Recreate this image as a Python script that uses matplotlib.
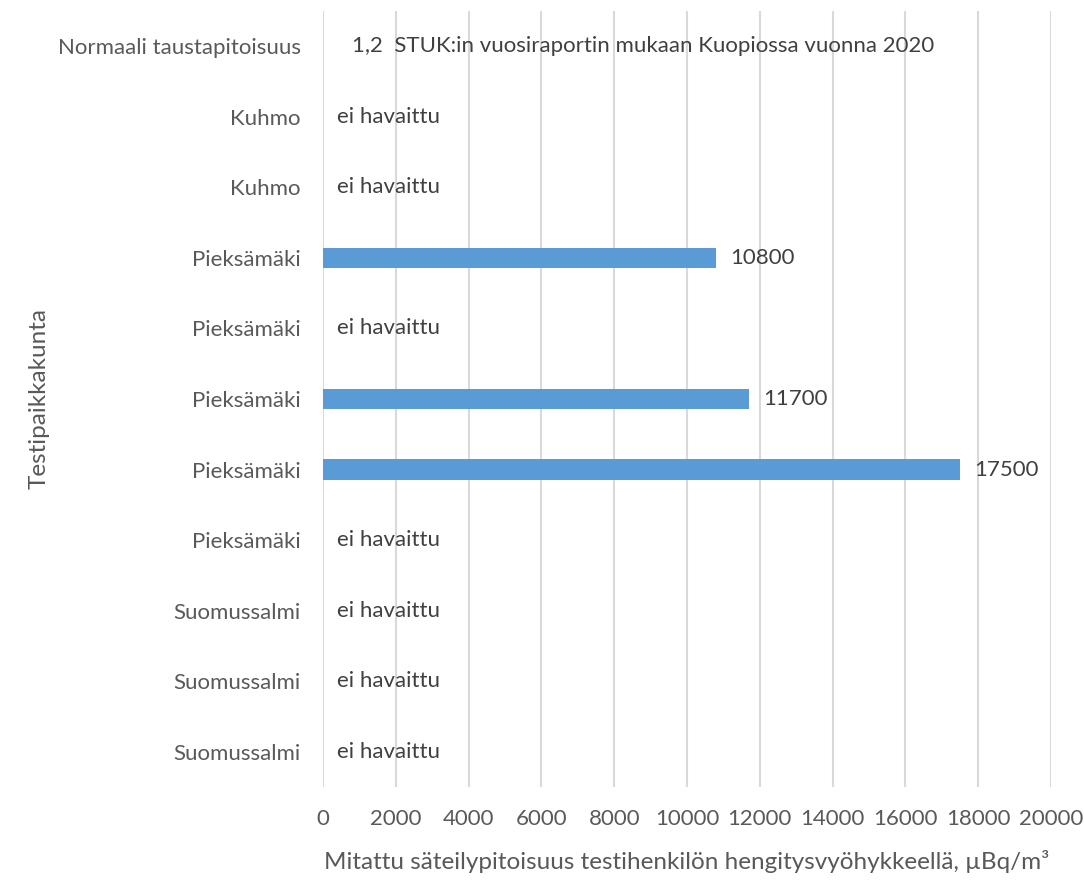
import matplotlib.pyplot as plt
import numpy as np

# Testipaikat ylhäältä alas
paikat = ["Normaali taustapitoisuus", "Kuhmo", "Kuhmo", "Pieksämäki",
          "Pieksämäki", "Pieksämäki", "Pieksämäki", "Pieksämäki",
          "Suomussalmi", "Suomussalmi", "Suomussalmi"]
# Mitatut pitoisuudet (µBq/m3), 0 = ei havaittu
arvot = [1.2, 0, 0, 10800, 0, 11700, 17500, 0, 0, 0, 0]
# Arvojen tekstit palkkien perässä
tekstit = ["1,2  STUK:in vuosiraportin mukaan Kuopiossa vuonna 2020",
           "ei havaittu", "ei havaittu", "10800", "ei havaittu", "11700",
           "17500", "ei havaittu", "ei havaittu", "ei havaittu", "ei havaittu"]
x_tikit = list(range(0, 20001, 2000))

plt.rcParams["font.family"] = ["Lato", "DejaVu Sans"]

fig = plt.figure(figsize=(10.84, 8.8), dpi=100)
ax = fig.add_axes([0.298, 0.1057, 0.6716, 0.8818])

y = np.arange(len(paikat))
ax.barh(y, arvot, height=0.29, color="#5B9BD5", zorder=3)

for i, (arvo, teksti) in enumerate(zip(arvot, tekstit)):
    siirto = 29 if i == 0 else 14
    ax.annotate(teksti, (arvo, y[i]), xytext=(siirto, 0),
                textcoords="offset pixels", va="center", ha="left",
                fontsize=16, color="#404040", zorder=4)

ax.set_xlim(0, 20000)
ax.set_ylim(len(paikat) - 0.5, -0.5)
ax.set_yticks(y)
ax.set_yticklabels(paikat)
ax.set_xticks(x_tikit)
ax.set_xticklabels([str(t) for t in x_tikit])
ax.tick_params(axis="both", length=0, labelsize=16, labelcolor="#595959")
ax.tick_params(axis="y", pad=16)
ax.tick_params(axis="x", pad=16)

ax.xaxis.grid(True, color="#D9D9D9", linewidth=1.5, zorder=0)
for s in ax.spines.values():
    s.set_visible(False)

ax.set_xlabel("Mitattu säteilypitoisuus testihenkilön hengitysvyöhykkeellä, µBq/m³",
              fontsize=17.5, color="#595959", labelpad=15)
ax.set_ylabel("Testipaikkakunta", fontsize=17.5, color="#595959", labelpad=6)

fig.savefig("out.png", dpi=100)
